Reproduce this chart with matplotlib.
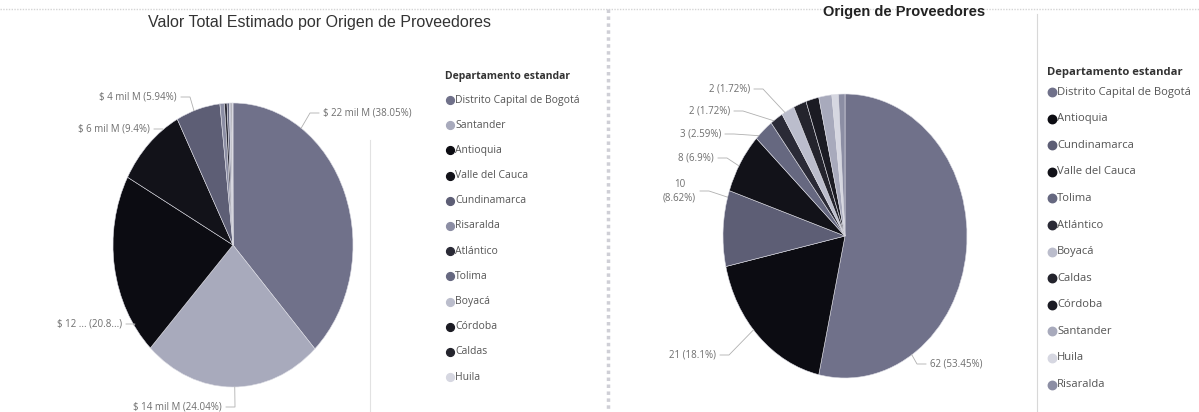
import numpy as np
import matplotlib.pyplot as plt
from matplotlib import font_manager
from matplotlib.lines import Line2D

# -----------------------------
# Data
# -----------------------------
departments = ["Distrito Capital de Bogotá", "Santander", "Antioquia", "Valle del Cauca",
               "Cundinamarca", "Risaralda", "Atlántico", "Tolima", "Boyacá",
               "Córdoba", "Caldas", "Huila"]

# left pie: share of total estimated value (%) and value in "mil M"
valor_pct = [38.05, 24.04, 20.83, 9.4, 5.94, 0.6, 0.35, 0.3, 0.2, 0.12, 0.1, 0.07]
valor_mil = [22, 14, 12, 6, 4, None, None, None, None, None, None, None]

# right pie: number of suppliers
origen_deptos = ["Distrito Capital de Bogotá", "Antioquia", "Cundinamarca", "Valle del Cauca",
                 "Tolima", "Atlántico", "Boyacá", "Caldas", "Córdoba", "Santander",
                 "Huila", "Risaralda"]
origen_count = [62, 21, 10, 8, 3, 2, 2, 2, 2, 2, 1, 1]

# greyscale scan colours, one per department
dept_color = {
    "Distrito Capital de Bogotá": "#70718a",
    "Santander": "#a8aabc",
    "Antioquia": "#0c0c12",
    "Valle del Cauca": "#121219",
    "Cundinamarca": "#5d5e75",
    "Risaralda": "#8c8ea4",
    "Atlántico": "#2a2a36",
    "Tolima": "#666880",
    "Boyacá": "#bbbdcc",
    "Córdoba": "#1b1b23",
    "Caldas": "#24242d",
    "Huila": "#d6d7e1",
}

W, H = 1199, 412
names = {f.name for f in font_manager.fontManager.ttflist}
TITLE_FONT = "Liberation Sans Narrow" if "Liberation Sans Narrow" in names else "Liberation Sans"
UI = "Open Sans"

fig = plt.figure(figsize=(W / 100, H / 100), dpi=100)


def fx(x):
    return x / W


def fy(y):
    return 1 - y / H


def line(xs, ys, color="#b8b8b8", lw=0.7, **kw):
    fig.add_artist(Line2D([fx(x) for x in xs], [fy(y) for y in ys],
                          transform=fig.transFigure, color=color, lw=lw, **kw))


def pie_axes(cx, cy, rx, ry, values, colors):
    ax = fig.add_axes([fx(cx - rx), fy(cy + ry), 2 * rx / W, 2 * ry / H])
    ax.pie(values, colors=colors, startangle=90, counterclock=False,
           wedgeprops=dict(linewidth=0.4, edgecolor="#dcdce4"))
    ax.set_aspect("auto")
    ax.set_xlim(-1, 1)
    ax.set_ylim(-1, 1)
    ax.axis("off")
    return ax


def add_label(cx, cy, rx, ry, values, idx, text, x, y, ha="right", size=7):
    # text with a Power BI style leader: short horizontal tick, then to the slice edge
    fig.text(fx(x), fy(y), text, ha=ha, va="center", fontsize=size,
             color="#6e6e6e", family=UI, linespacing=1.35, multialignment="center")
    sgn = 1 if ha == "right" else -1
    x0 = x + sgn * 4
    x1 = x0 + sgn * 9
    cum = np.cumsum([0] + list(values)) / np.sum(values) * 360
    a1, a2 = cum[idx], cum[idx + 1]
    ang = np.degrees(np.arctan2((x1 - cx) / rx, -(y - cy) / ry)) % 360
    m = min(1.5, (a2 - a1) / 3)
    ang = np.clip(ang, a1 + m, a2 - m)
    ex = cx + rx * np.sin(np.radians(ang))
    ey = cy - ry * np.cos(np.radians(ang))
    line([x0, x1, ex], [y, y, ey], color="#b0b0b0", lw=0.6)


def legend(x, y0, step, items, size, title_gap):
    fig.text(fx(x), fy(y0 - title_gap), "Departamento estandar", ha="left", va="center",
             fontsize=size, fontweight="bold", color="#333333", family=UI)
    for i, d in enumerate(items):
        yy = y0 + i * step
        fig.add_artist(Line2D([fx(x + 5)], [fy(yy)], transform=fig.transFigure, marker="o",
                              ms=size * 0.75, color=dept_color[d], lw=0))
        fig.text(fx(x + 10), fy(yy), d, ha="left", va="center", fontsize=size,
                 color="#555555", family=UI)


# -----------------------------
# Frame / separators of the report page
# -----------------------------
line([0, W], [9, 9], color="#d4d4d4", lw=1.0, ls=(0, (1, 1)))
line([608, 608], [9, H], color="#cfcfd6", lw=2.5, ls=(0, (1, 1)))
line([370, 370], [140, H], color="#e2e2e2", lw=0.8)
line([1037, 1037], [14, H], color="#d8d8d8", lw=0.8)

# -----------------------------
# Left: Valor Total Estimado por Origen de Proveedores
# -----------------------------
fig.text(fx(148), fy(22), "Valor Total Estimado por Origen de Proveedores",
         ha="left", va="center", fontsize=11.5, color="#333333", family=TITLE_FONT)

lcx, lcy, lrx, lry = 233, 245, 120, 142
pie_axes(lcx, lcy, lrx, lry, valor_pct, [dept_color[d] for d in departments])


def valor_text(i):
    return f"$ {valor_mil[i]} mil M ({valor_pct[i]:g}%)"


add_label(lcx, lcy, lrx, lry, valor_pct, 0, valor_text(0), 323, 113, ha="left")
add_label(lcx, lcy, lrx, lry, valor_pct, 1, valor_text(1), 222, 407)
add_label(lcx, lcy, lrx, lry, valor_pct, 2, "$ 12 ... (20.8...)", 122, 324)
add_label(lcx, lcy, lrx, lry, valor_pct, 3, valor_text(3), 150, 129)
add_label(lcx, lcy, lrx, lry, valor_pct, 4, valor_text(4), 177, 97)

legend(445, 100, 25.2, departments, 7.5, 23)

# -----------------------------
# Right: Origen de Proveedores
# -----------------------------
fig.text(fx(985), fy(12), "Origen de Proveedores", ha="right", va="center",
         fontsize=10.5, fontweight="bold", color="#222222", family="Liberation Sans")

rcx, rcy, rrx, rry = 845, 236, 122, 142
pie_axes(rcx, rcy, rrx, rry, origen_count, [dept_color[d] for d in origen_deptos])

total = sum(origen_count)


def origen_text(i, sep=" "):
    p = f"{origen_count[i] / total * 100:.2f}".rstrip("0").rstrip(".")
    return f"{origen_count[i]}{sep}({p}%)"


add_label(rcx, rcy, rrx, rry, origen_count, 0, origen_text(0), 930, 364, ha="left")
add_label(rcx, rcy, rrx, rry, origen_count, 1, origen_text(1), 716, 355)
add_label(rcx, rcy, rrx, rry, origen_count, 2, origen_text(2, "\n"), 696, 191)
add_label(rcx, rcy, rrx, rry, origen_count, 3, origen_text(3), 714, 158)
add_label(rcx, rcy, rrx, rry, origen_count, 4, origen_text(4), 721, 134)
add_label(rcx, rcy, rrx, rry, origen_count, 5, origen_text(5), 730, 111)
add_label(rcx, rcy, rrx, rry, origen_count, 6, origen_text(6), 750, 89)

legend(1047, 92, 26.6, origen_deptos, 8.1, 20)

fig.savefig("out.png", dpi=100)
